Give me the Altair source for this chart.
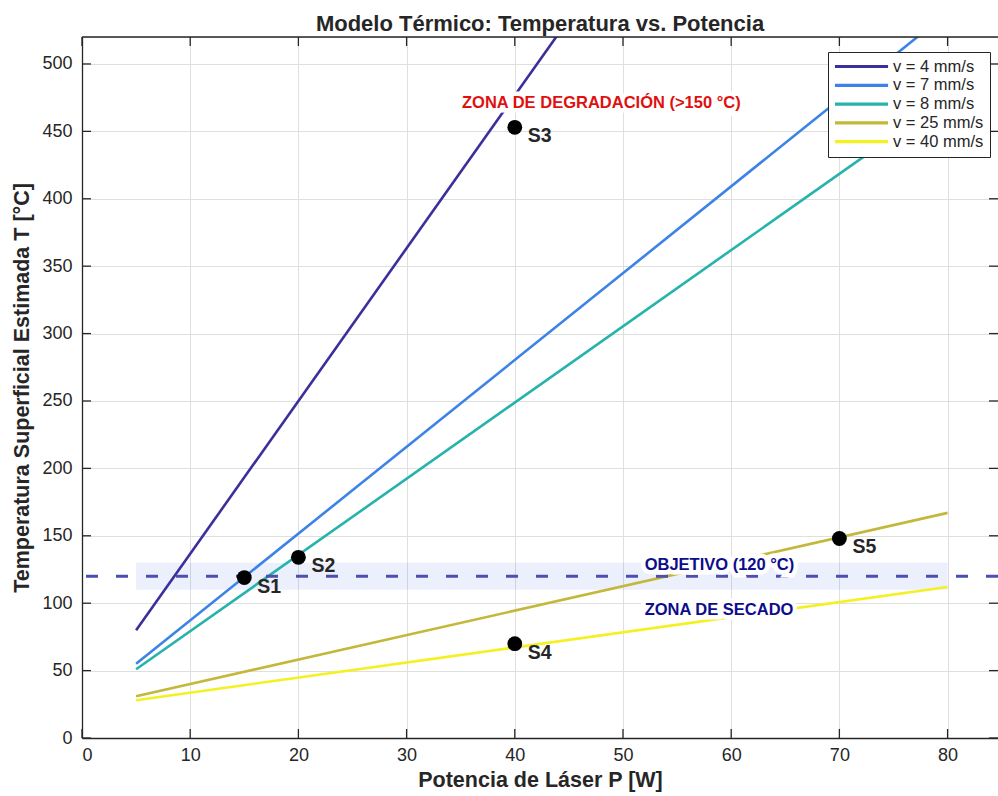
import altair as alt
import pandas as pd

# ---------------- data ----------------
P_ends = [5, 80]
T_v4 = [80, 930]
T_v7 = [55, 538]
T_v8 = [51, 475]
T_v25 = [31, 167]
T_v40 = [28, 112]
series_names = ["v = 4 mm/s", "v = 7 mm/s", "v = 8 mm/s", "v = 25 mm/s", "v = 40 mm/s"]
series_T = [T_v4, T_v7, T_v8, T_v25, T_v40]
series_colors = ["#3a2f9c", "#3d83e6", "#26b3ab", "#c4b83a", "#f4f022"]

pt_labels = ["S1", "S2", "S3", "S4", "S5"]
pt_P = [15, 20, 40, 40, 70]
pt_T = [119, 134, 453, 70, 148]

x_ticks = [0, 10, 20, 30, 40, 50, 60, 70, 80]
y_ticks = [0, 50, 100, 150, 200, 250, 300, 350, 400, 450, 500]

band_P = [5, 80]
band_T = [110, 130]
target_T = 120

ann_text = ["ZONA DE DEGRADACIÓN (>150 °C)", "OBJETIVO (120 °C)", "ZONA DE SECADO"]
ann_P = [48, 52, 52]
ann_T = [471, 128, 95]
ann_color = ["#e01010", "#0d0d8c", "#0d0d8c"]
ann_align = ["center", "left", "left"]

# ---------------- layout ----------------
W, H = 916, 701
FONT = "Liberation Sans"
TXT = "#262626"

rows = []
for name, Ts in zip(series_names, series_T):
    for p, t in zip(P_ends, Ts):
        rows.append({"P": p, "T": t, "serie": name})
lines_df = pd.DataFrame(rows)
pts_df = pd.DataFrame({"P": pt_P, "T": pt_T, "lab": pt_labels})
band_df = pd.DataFrame({"p0": [band_P[0]], "p1": [band_P[1]], "t0": [band_T[0]], "t1": [band_T[1]]})
target_df = pd.DataFrame({"T": [target_T]})
xt_df = pd.DataFrame({"P": x_ticks})
yt_df = pd.DataFrame({"T": y_ticks})

xscale = alt.Scale(domain=[0, 84.66], nice=False, zero=False)
yscale = alt.Scale(domain=[0, 520], nice=False, zero=False)

xaxis = alt.Axis(values=x_ticks, grid=True, gridColor="#dfdfdf", gridWidth=1,
                 domain=True, domainColor=TXT, domainWidth=1.3, ticks=False,
                 labelFont=FONT, labelFontSize=18, labelColor=TXT, labelPadding=8,
                 title="Potencia de Láser P [W]", titleFont=FONT, titleFontSize=21.5,
                 titleFontWeight="bold", titleColor=TXT, titlePadding=5)
yaxis = alt.Axis(values=y_ticks, grid=True, gridColor="#dfdfdf", gridWidth=1,
                 domain=True, domainColor=TXT, domainWidth=1.3, ticks=False,
                 labelFont=FONT, labelFontSize=18, labelColor=TXT, labelPadding=10,
                 title="Temperatura Superficial Estimada T [°C]", titleFont=FONT,
                 titleFontSize=21.5, titleFontWeight="bold", titleColor=TXT, titlePadding=8)

X = alt.X("P:Q", scale=xscale, axis=xaxis)
Y = alt.Y("T:Q", scale=yscale, axis=yaxis)

band = alt.Chart(band_df).mark_rect(color="#4060e0", opacity=0.1).encode(
    x=alt.X("p0:Q", scale=xscale, axis=xaxis), x2="p1", y=alt.Y("t0:Q", scale=yscale, axis=yaxis), y2="t1")

lines = alt.Chart(lines_df).mark_line(clip=True, strokeWidth=2.6).encode(
    x=X, y=Y,
    color=alt.Color("serie:N", sort=series_names,
                    scale=alt.Scale(domain=series_names, range=series_colors),
                    legend=alt.Legend(orient="none", legendX=746, legendY=15, title=None,
                                      symbolType="M-4,0L4,0", symbolStrokeWidth=3.2,
                                      symbolSize=176, symbolOffset=19,
                                      labelFont=FONT, labelFontSize=16.5, labelColor=TXT,
                                      fillColor="white", strokeColor=TXT, padding=6,
                                      rowPadding=1.8, labelOffset=23, cornerRadius=0)),
    detail="serie:N")

target = alt.Chart(target_df).mark_rule(color="#4a4fb0", strokeDash=[12, 18], strokeWidth=3).encode(y=Y)

points = alt.Chart(pts_df).mark_circle(size=220, color="black", opacity=1).encode(x=X, y=Y)
pt_text = alt.Chart(pts_df).mark_text(align="left", baseline="middle", dx=13, dy=9, font=FONT,
                                      fontSize=19.5, fontWeight="bold", color=TXT).encode(
    x=X, y=Y, text="lab:N")

ann_layers = []
for t, p, tv, c, a in zip(ann_text, ann_P, ann_T, ann_color, ann_align):
    d = pd.DataFrame({"P": [p], "T": [tv], "txt": [t]})
    halo = alt.Chart(d).mark_text(align=a, baseline="middle", font=FONT, fontSize=16.5,
                                  fontWeight="bold", color="white", stroke="white",
                                  strokeWidth=9, strokeJoin="miter").encode(x=X, y=Y, text="txt:N")
    txt = alt.Chart(d).mark_text(align=a, baseline="middle", font=FONT, fontSize=16.5,
                                 fontWeight="bold", color=c).encode(x=X, y=Y, text="txt:N")
    ann_layers += [halo, txt]

# inner ticks and top frame line (MATLAB box style)
tk = dict(color=TXT, strokeWidth=1.3)
xt_bot = alt.Chart(xt_df).mark_rule(**tk).encode(x=X, y=alt.value(H), y2=alt.value(H - 9))
xt_top = alt.Chart(xt_df).mark_rule(**tk).encode(x=X, y=alt.value(0), y2=alt.value(9))
yt_left = alt.Chart(yt_df).mark_rule(**tk).encode(y=Y, x=alt.value(0), x2=alt.value(9))
yt_right = alt.Chart(yt_df).mark_rule(**tk).encode(y=Y, x=alt.value(W), x2=alt.value(W - 9))
top_line = alt.Chart(target_df).mark_rule(**tk).encode(y=alt.value(0), x=alt.value(0), x2=alt.value(W))

chart = alt.layer(
    band, lines, target, points, pt_text, *ann_layers,
    xt_bot, xt_top, yt_left, yt_right, top_line
).properties(
    width=W, height=H,
    title=alt.TitleParams("Modelo Térmico: Temperatura vs. Potencia", font=FONT, fontSize=22,
                          fontWeight="bold", color=TXT, anchor="middle", offset=0),
    autosize=alt.AutoSizeParams(type="none"),
    padding={"left": 82, "top": 37, "right": 0, "bottom": 58},
).configure_view(stroke=None).configure(background="white")

chart.save("out.html", embed_options={"renderer": "svg", "actions": False})
